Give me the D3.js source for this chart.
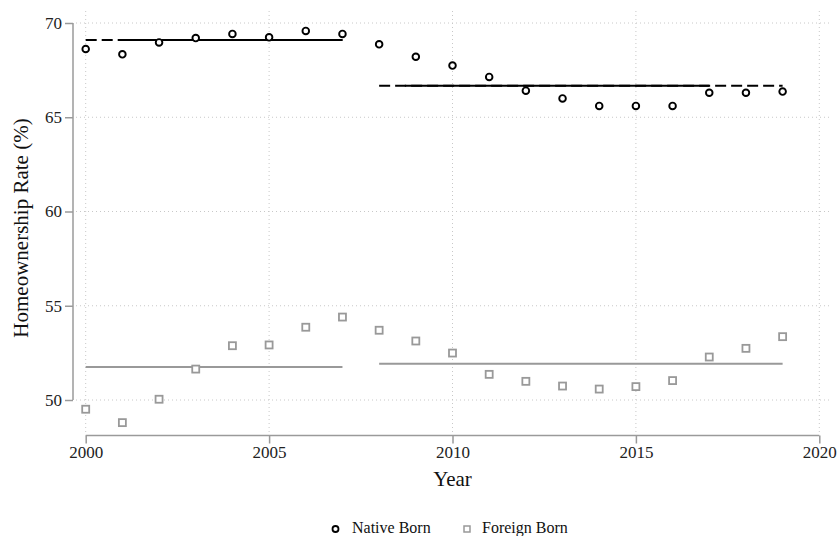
<!DOCTYPE html>
<html>
<head>
<meta charset="utf-8">
<script src="https://cdn.jsdelivr.net/npm/d3@7"></script>
<style>
  body { margin: 0; background: #fff; }
  svg { display: block; }
  svg text { font-family: "Liberation Serif", "Times New Roman", serif; }
</style>
</head>
<body>
<svg id="chart" width="837" height="536"></svg>
<script>
// Homeownership rates by nativity, 2000–2019
const years = d3.range(2000, 2020);
const nativeBorn = [68.62, 68.34, 68.97, 69.20, 69.42, 69.24, 69.58, 69.42,
                    68.87, 68.21, 67.74, 67.14, 66.41, 66.00, 65.60, 65.60, 65.60, 66.30, 66.30, 66.36];
const foreignBorn = [49.51, 48.80, 50.04, 51.64, 52.88, 52.92, 53.86, 54.40,
                     53.70, 53.13, 52.49, 51.36, 50.99, 50.74, 50.58, 50.71, 51.03, 52.28, 52.74, 53.36];
// Periods over which the mean rate is drawn
const periods = [[2000, 2007], [2008, 2019]];
const xTicks = [2000, 2005, 2010, 2015, 2020];
const yTicks = [50, 55, 60, 65, 70];
const seriesNames = ["Native Born", "Foreign Born"];

const serif = "'Liberation Serif', 'Times New Roman', serif";
const svg = d3.select("#chart");
const x = d3.scaleLinear().domain([2000, 2020]).range([85.7, 819.3]);
const y = d3.scaleLinear().domain([50, 70]).range([400, 23]);

const axisGray = "#9a9a9a";
const foreignGray = "#999999";
const plotLeft = 73, plotRight = 829, plotTop = 11, plotBottom = 435.5;

// Dotted grid
const grid = svg.append("g");
grid.selectAll("line.h").data(yTicks).join("line")
  .attr("x1", plotLeft + 3).attr("x2", plotRight)
  .attr("y1", d => y(d)).attr("y2", d => y(d))
  .attr("stroke", "#c8c8c8").attr("stroke-width", 1).attr("stroke-dasharray", "1,3");
grid.selectAll("line.v").data(xTicks).join("line")
  .attr("x1", d => x(d)).attr("x2", d => x(d))
  .attr("y1", plotTop).attr("y2", plotBottom - 2)
  .attr("stroke", "#c8c8c8").attr("stroke-width", 1).attr("stroke-dasharray", "1,3");

// Axes
const yAxis = svg.append("g").attr("transform", `translate(${plotLeft},0)`)
  .call(d3.axisLeft(y).tickValues(yTicks).tickSize(8).tickPadding(3).tickSizeOuter(0));
const xAxis = svg.append("g").attr("transform", `translate(0,${plotBottom})`)
  .call(d3.axisBottom(x).tickValues(xTicks).tickFormat(d3.format("d")).tickSize(8).tickPadding(2).tickSizeOuter(0));
[xAxis, yAxis].forEach(a => {
  a.attr("font-family", serif).attr("font-size", 17);
  a.select(".domain").attr("stroke", axisGray).attr("stroke-width", 1.5);
  a.selectAll(".tick line").attr("stroke", axisGray).attr("stroke-width", 1.5);
  a.selectAll(".tick text").attr("fill", "#222");
});
yAxis.select(".domain").attr("d", `M0,${y(70)}V${y(50)}`);
xAxis.select(".domain").attr("d", `M${x(2000)},0H${x(2020)}`);

// Axis titles
svg.append("text").attr("x", x(2010)).attr("y", 486).attr("text-anchor", "middle")
  .attr("font-family", serif).attr("font-size", 21).attr("fill", "#111").text("Year");
svg.append("text").attr("transform", `translate(28,228) rotate(-90)`)
  .attr("text-anchor", "middle").attr("font-family", serif).attr("font-size", 21).attr("fill", "#111")
  .text("Homeownership Rate (%)");

// Period means
function periodMeans(values) {
  return periods.map(([a, b]) => ({
    a, b,
    mean: d3.mean(years.map((yr, i) => (yr >= a && yr <= b ? values[i] : null)).filter(v => v !== null))
  }));
}
const nativeMeans = periodMeans(nativeBorn);
const foreignMeans = periodMeans(foreignBorn);

svg.append("g").selectAll("line").data(foreignMeans).join("line")
  .attr("x1", d => x(d.a)).attr("x2", d => x(d.b))
  .attr("y1", d => y(d.mean)).attr("y2", d => y(d.mean))
  .attr("stroke", foreignGray).attr("stroke-width", 2);

// Native-born mean: dashed over the full period, solid through its core
const nativeSolid = [[2000.95, 2007], [2008.7, 2017]];
const nl = svg.append("g");
nl.selectAll("line.d").data(nativeMeans).join("line")
  .attr("x1", d => x(d.a)).attr("x2", d => x(d.b))
  .attr("y1", d => y(d.mean)).attr("y2", d => y(d.mean))
  .attr("stroke", "#000").attr("stroke-width", 2).attr("stroke-dasharray", "11,5");
nl.selectAll("line.s").data(nativeMeans).join("line")
  .attr("x1", (d, i) => x(nativeSolid[i][0])).attr("x2", (d, i) => x(nativeSolid[i][1]))
  .attr("y1", d => y(d.mean)).attr("y2", d => y(d.mean))
  .attr("stroke", "#000").attr("stroke-width", 2);

// Markers
svg.append("g").selectAll("circle").data(nativeBorn).join("circle")
  .attr("cx", (d, i) => x(years[i])).attr("cy", d => y(d)).attr("r", 3.3)
  .attr("fill", "#fff").attr("stroke", "#000").attr("stroke-width", 1.9);
const sq = 7;
svg.append("g").selectAll("rect").data(foreignBorn).join("rect")
  .attr("x", (d, i) => x(years[i]) - sq / 2).attr("y", d => y(d) - sq / 2)
  .attr("width", sq).attr("height", sq)
  .attr("fill", "#fff").attr("stroke", foreignGray).attr("stroke-width", 1.8);

// Legend
const legend = svg.append("g");
legend.append("circle").attr("cx", 335.5).attr("cy", 529).attr("r", 3)
  .attr("fill", "#fff").attr("stroke", "#000").attr("stroke-width", 1.8);
legend.append("text").attr("x", 352).attr("y", 533).attr("font-family", serif).attr("font-size", 16).attr("fill", "#111")
  .text(seriesNames[0]);
legend.append("rect").attr("x", 464).attr("y", 526).attr("width", 6).attr("height", 6)
  .attr("fill", "#fff").attr("stroke", foreignGray).attr("stroke-width", 1.5);
legend.append("text").attr("x", 482).attr("y", 533).attr("font-family", serif).attr("font-size", 16).attr("fill", "#111")
  .text(seriesNames[1]);
</script>
</body>
</html>
